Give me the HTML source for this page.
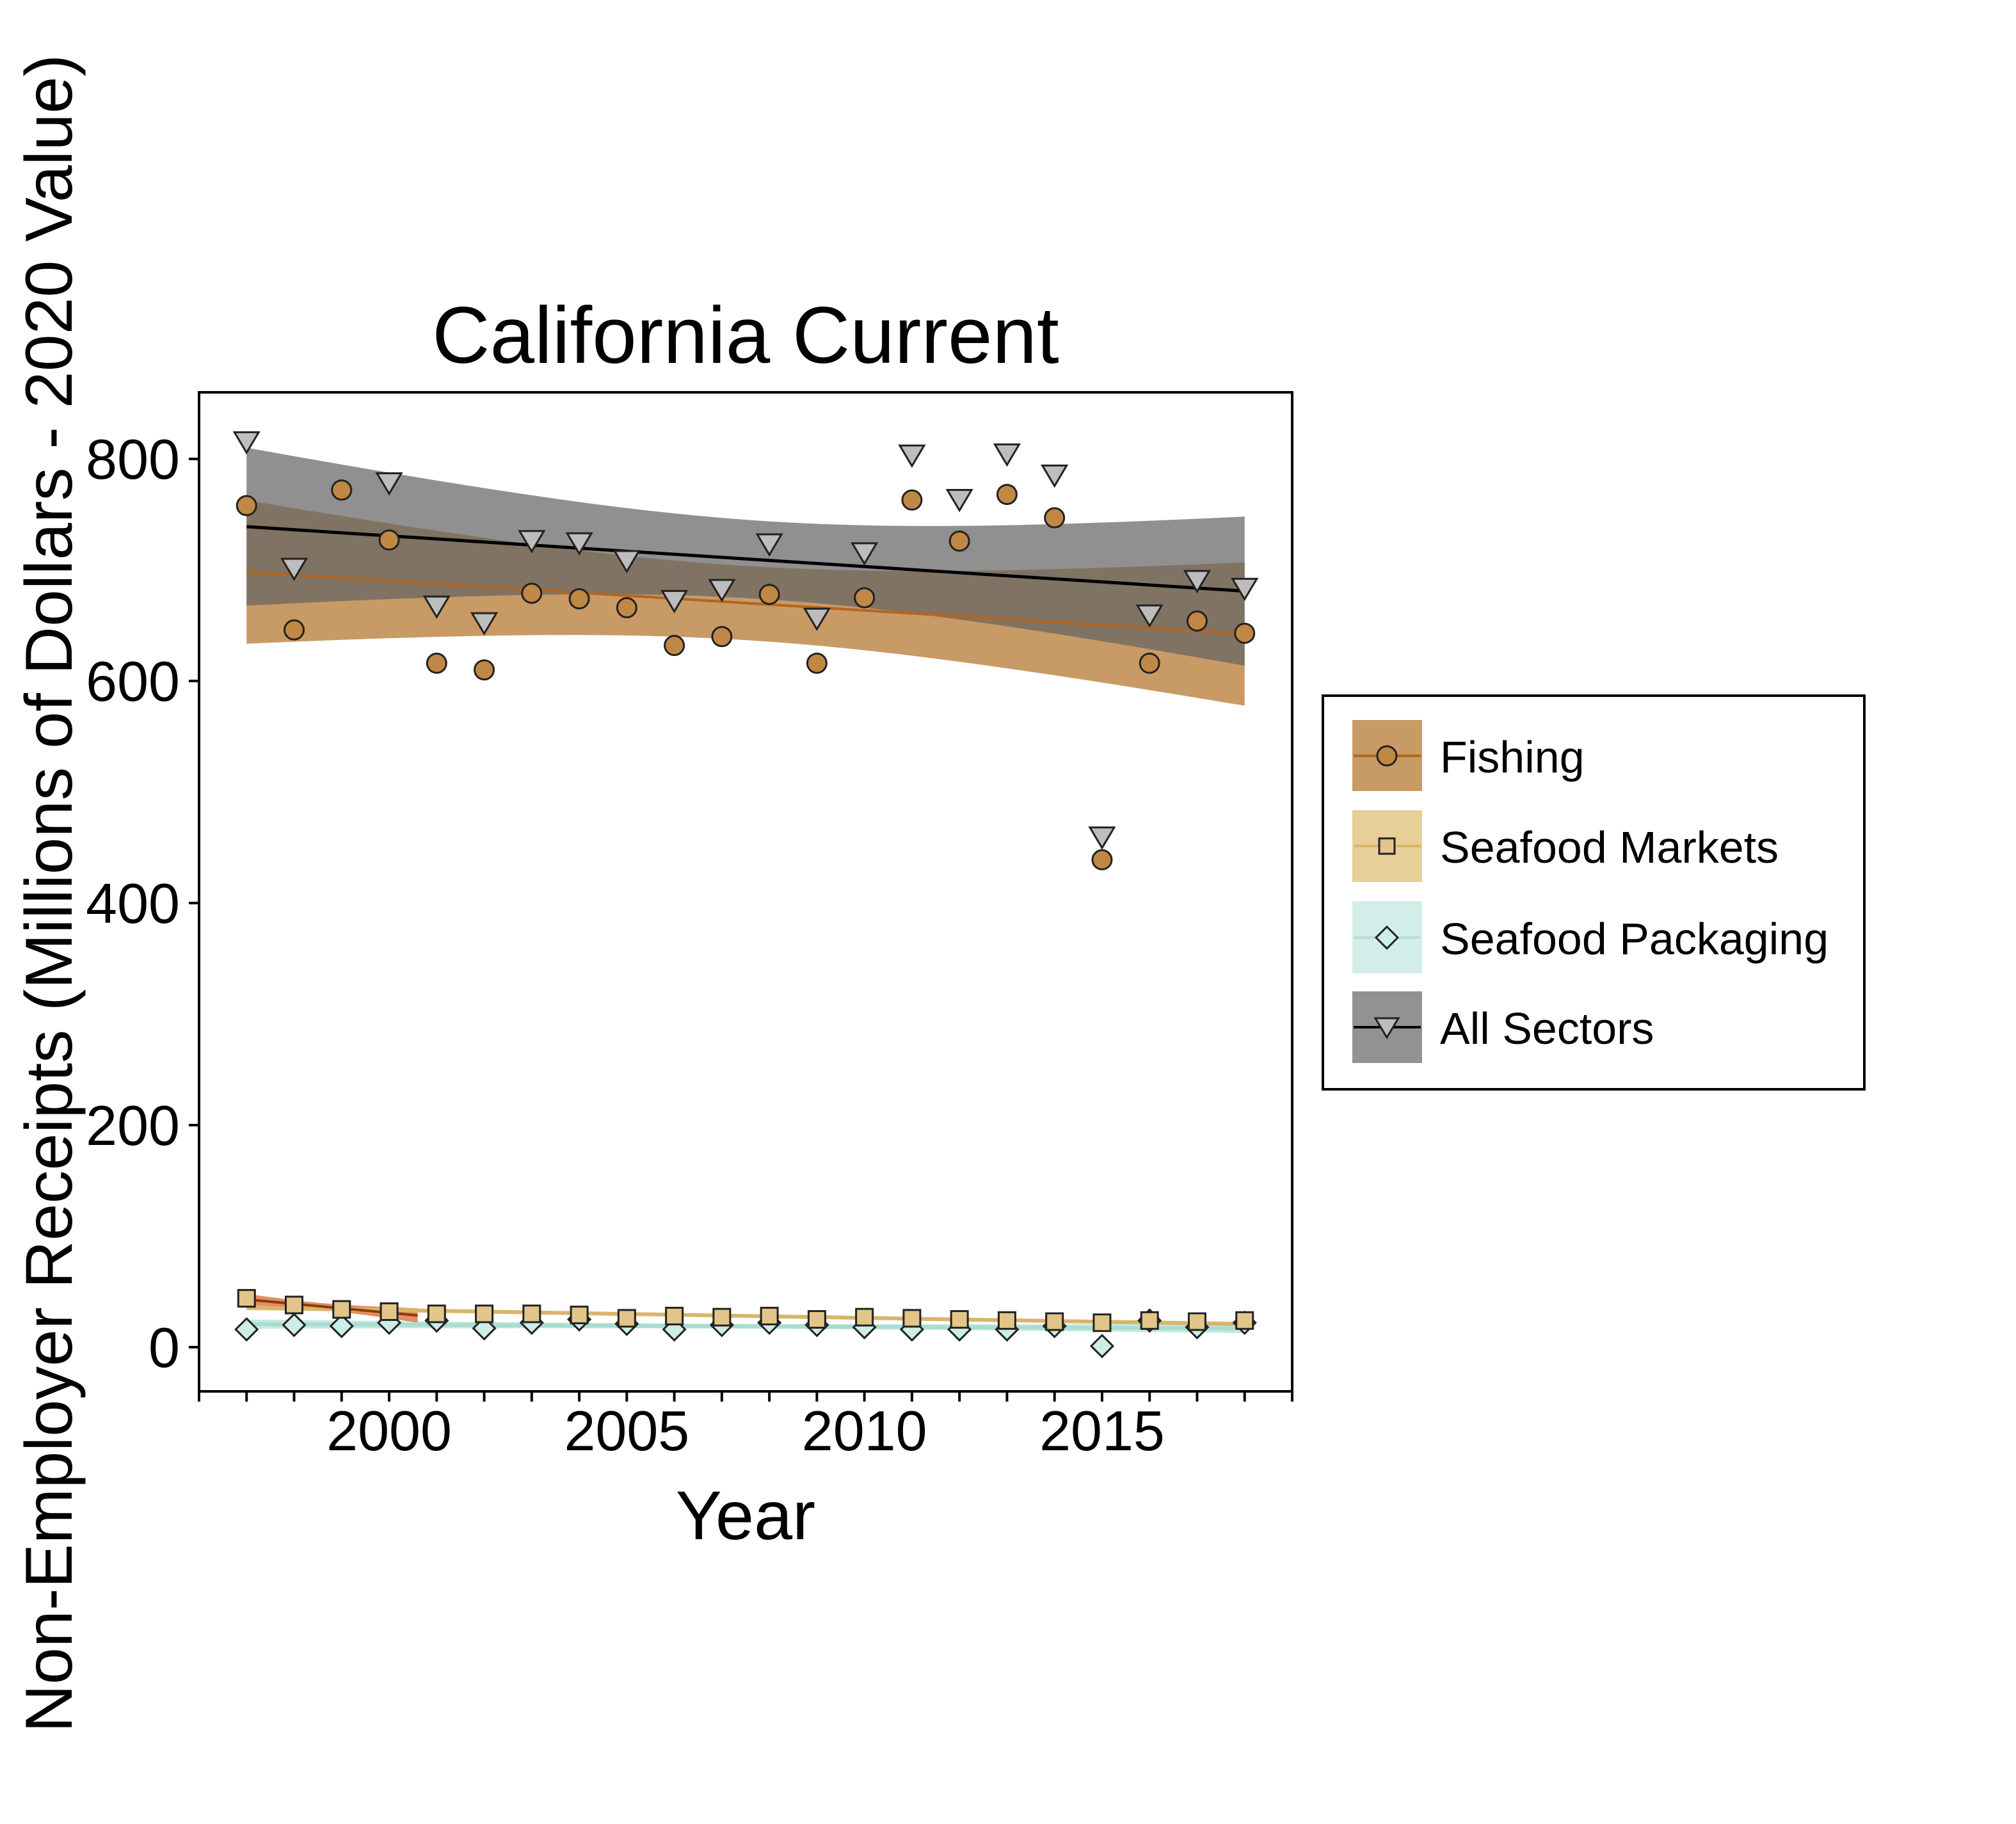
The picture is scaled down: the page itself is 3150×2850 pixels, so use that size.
<!DOCTYPE html>
<html><head><meta charset="utf-8"><style>
html,body{margin:0;padding:0;background:#fff}
svg{display:block;font-family:"Liberation Sans",Arial,sans-serif}
</style></head><body>
<svg id="chart" width="3150" height="2850" viewBox="0 0 3150 2850">
<text x="1165" y="567" font-size="125" text-anchor="middle">California Current</text>
<text x="1165" y="2405" font-size="108" text-anchor="middle">Year</text>
<text transform="translate(112,1396) rotate(-90)" font-size="104" text-anchor="middle">Non-Employer Receipts (Millions of Dollars - 2020 Value)</text>
<g id="plot"></g>
<g id="legend">
<rect x="2067" y="1087" width="846" height="615" fill="#fff" stroke="#000" stroke-width="4"/>
<g>
<rect x="2113" y="1125" width="109" height="111" fill="#c89a66"/>
<line x1="2115" y1="1181" x2="2220" y2="1181" stroke="#b5651d" stroke-width="4"/>
<circle cx="2167" cy="1181" r="15" fill="#c08845" stroke="#222" stroke-width="3"/>
<text x="2250" y="1207" font-size="70">Fishing</text></g>
<g>
<rect x="2113" y="1266" width="109" height="112" fill="#e6cf98"/>
<line x1="2115" y1="1322" x2="2220" y2="1322" stroke="#d9b46a" stroke-width="4"/>
<rect x="2155" y="1310" width="24" height="24" fill="#e2c588" stroke="#222" stroke-width="3"/>
<text x="2250" y="1348" font-size="70">Seafood Markets</text></g>
<g>
<rect x="2113" y="1408" width="109" height="113" fill="#d3eee8"/>
<line x1="2115" y1="1465" x2="2220" y2="1465" stroke="#b5e0d8" stroke-width="4"/>
<polygon points="2167,1448 2184,1465 2167,1482 2150,1465" fill="#cdeee6" stroke="#222" stroke-width="3"/>
<text x="2250" y="1491" font-size="70">Seafood Packaging</text></g>
<g>
<rect x="2113" y="1549" width="109" height="112" fill="#929292"/>
<line x1="2115" y1="1605" x2="2220" y2="1605" stroke="#000" stroke-width="4"/>
<polygon points="2149,1591 2185,1591 2167,1621" fill="#bdbdbd" stroke="#222" stroke-width="3"/>
<text x="2250" y="1631" font-size="70">All Sectors</text></g>
</g>
</svg>
<script>
const years=[1997,1998,1999,2000,2001,2002,2003,2004,2005,2006,2007,2008,2009,2010,2011,2012,2013,2014,2015,2016,2017,2018];
const allSectors=[816,702,null,779,668,653,727,725,709,673,683,724,657,716,804,764,805,786,460,660,691,684];
const fishing=[758,646,772,727,616,610,679,674,666,632,640,678,616,675,763,726,768,747,439,616,654,643];
const markets=[44,38,34,32,30,30,30,29,26,28,27,28,25,27,26,25,24,23,22,24,23,24];
const packaging=[16,20,19,22,24,17,22,25,21,16,20,22,20,18,16,16,16,19,1,24,18,22];
const yTicks=[0,200,400,600,800];
const xTickLabels=[2000,2005,2010,2015];

const L=311,R=2019,T=613,B=2174;
const X0=1996,X1=2019,Y0=-39.8,Y1=860;
function xS(v){return L+(v-X0)/(X1-X0)*(R-L);}
function yS(v){return B-(v-Y0)/(Y1-Y0)*(B-T);}
const NS='http://www.w3.org/2000/svg';
const g=document.getElementById('plot');
function mk(t,a,p){const e=document.createElementNS(NS,t);for(const k in a)e.setAttribute(k,a[k]);(p||g).appendChild(e);return e;}

function fit(xs,ys,t){
  const px=[],py=[];xs.forEach((x,i)=>{if(ys[i]!=null){px.push(x);py.push(ys[i]);}});
  const n=px.length,mx=px.reduce((a,b)=>a+b)/n,my=py.reduce((a,b)=>a+b)/n;
  let sxx=0,sxy=0;px.forEach((x,i)=>{sxx+=(x-mx)**2;sxy+=(x-mx)*(py[i]-my);});
  const b=sxy/sxx,a=my-b*mx;let sse=0;px.forEach((x,i)=>{sse+=(py[i]-a-b*x)**2;});
  const s=Math.sqrt(sse/(n-2));
  return {f:x=>a+b*x,se:x=>s*Math.sqrt(1/n+(x-mx)**2/sxx),t:t||2.09};
}
function band(m,x0,x1,fill,name,op){
  const up=[],lo=[];
  for(let i=0;i<=40;i++){const x=x0+(x1-x0)*i/40;const c=m.f(x),e=m.t*m.se(x);up.push(xS(x)+','+yS(c+e));lo.unshift(xS(x)+','+yS(c-e));}
  const p=mk('polygon',{points:up.concat(lo).join(' '),fill:fill,'fill-opacity':op||1});
  
  
}
function line(m,x0,x1,col,w,name){
  const l=mk('line',{x1:xS(x0),y1:yS(m.f(x0)),x2:xS(x1),y2:yS(m.f(x1)),stroke:col,'stroke-width':w});
  
  
}
const mF=fit(years,fishing),mA=fit(years,allSectors),mM=fit(years,markets),mP=fit(years,packaging);
const early=fit(years.slice(0,4),markets.slice(0,4),4.3);
band(mF,1997,2018,'#c89a66','fishing-ci-band');
band(mA,1997,2018,'#636363','all-sectors-ci-band',0.71);
band(mM,1997,2018,'#e6cf98','markets-ci-band',0.8);
band(mP,1997,2018,'#b5e3da','packaging-ci-band',0.8);
band(early,1997,2000.6,'#d9743a','early-markets-ci-band',0.8);
line(mF,1997,2018,'#b5651d',4,'fishing-trend-line');
line(mA,1997,2018,'#000',5,'all-sectors-trend-line');
line(mM,1997,2018,'#d9b46a',6,'markets-trend-line');
line(mP,1997,2018,'#a8dcd2',6,'packaging-trend-line');
line(early,1997,2000.6,'#8a3a10',4,'early-markets-trend-line');

years.forEach((yr,i)=>{
  const x=xS(yr);
  let y=yS(packaging[i]);
  const d=mk('polygon',{points:`${x},${y-17} ${x+17},${y} ${x},${y+17} ${x-17},${y}`,fill:'#cdeee6',stroke:'#222','stroke-width':3});
  
  
  y=yS(markets[i]);
  const s=mk('rect',{x:x-13,y:y-13,width:26,height:26,fill:'#e2c588',stroke:'#222','stroke-width':3});
  
  
  y=yS(fishing[i]);
  const c=mk('circle',{cx:x,cy:y,r:15,fill:'#c08845',stroke:'#222','stroke-width':3});
  
  
  if(allSectors[i]!=null){
    y=yS(allSectors[i]);
    const t=mk('polygon',{points:`${x-19},${y-14} ${x+19},${y-14} ${x},${y+18}`,fill:'#bdbdbd',stroke:'#222','stroke-width':3});
    
    
  }
});

const frame=mk('rect',{x:L,y:T,width:R-L,height:B-T,fill:'none',stroke:'#000','stroke-width':4});


yTicks.forEach(v=>{
  const y=yS(v);
  const tk=mk('line',{x1:L-16,y1:y,x2:L,y2:y,stroke:'#000','stroke-width':4});
  
  
  const tx=mk('text',{x:L-30,y:y+31,'font-size':88,'text-anchor':'end'});
  tx.textContent=v;
  
  
});
for(let yr=X0;yr<=X1;yr++){
  const x=xS(yr);
  const tk=mk('line',{x1:x,y1:B,x2:x,y2:B+16,stroke:'#000','stroke-width':4});
  
  
}
xTickLabels.forEach(v=>{
  const tx=mk('text',{x:xS(v),y:B+92,'font-size':88,'text-anchor':'middle'});
  tx.textContent=v;
  
  
});
</script>
</body></html>
